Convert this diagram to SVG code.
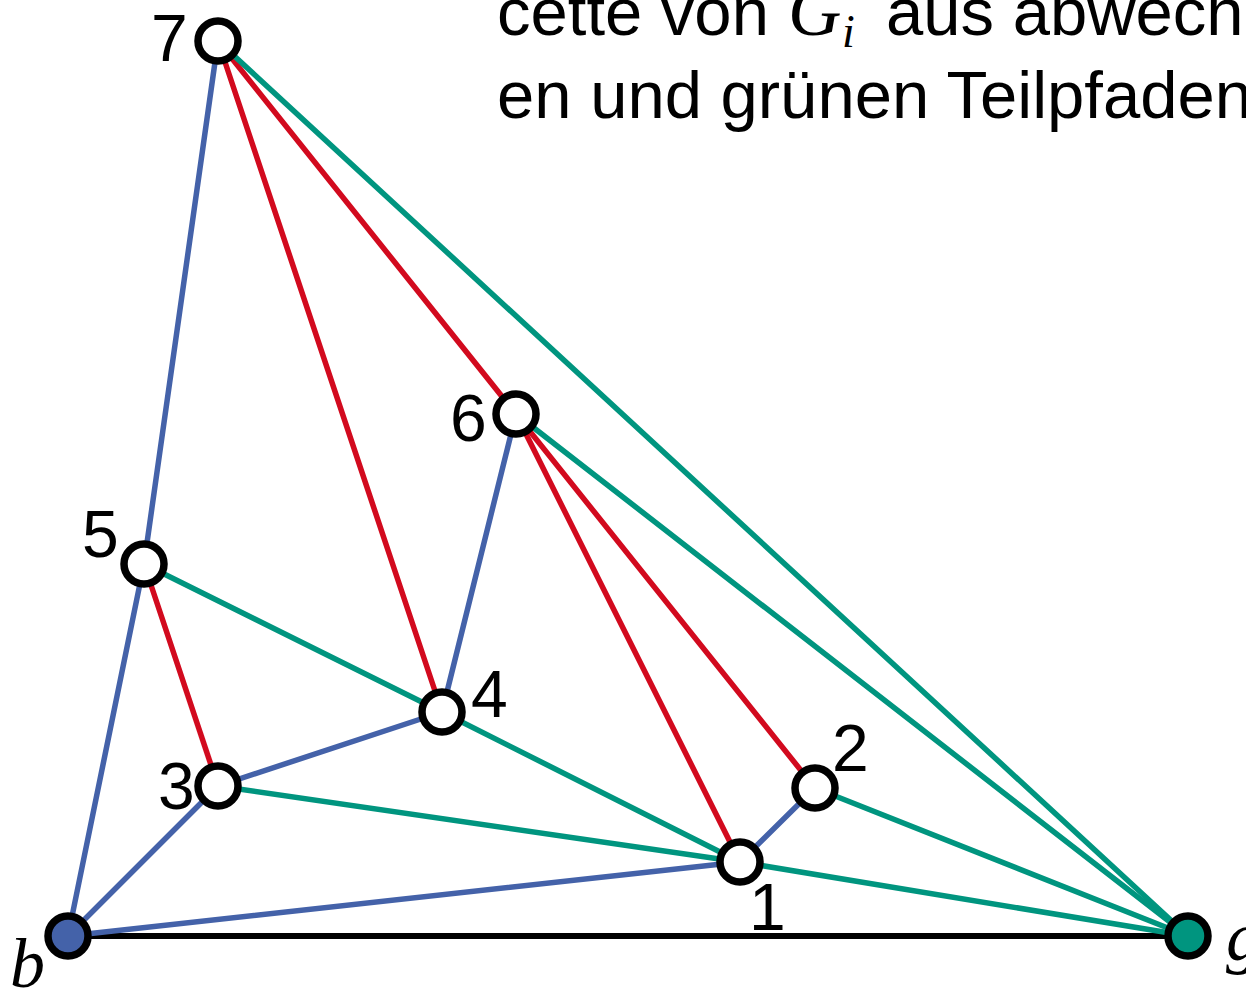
<svg xmlns="http://www.w3.org/2000/svg" width="1246" height="996" viewBox="0 0 1246 996">
<style>
.e{stroke-width:5.5;fill:none;stroke-linecap:round}
.bl{stroke:#4462a9}
.rd{stroke:#d20a1e}
.tl{stroke:#00957f}
.bk{stroke:#000;stroke-width:6}
.n{fill:#fff;stroke:#000;stroke-width:7.5}
.lab{font-family:"Liberation Sans",Arial,sans-serif;font-size:66px;fill:#000}
.txt{font-family:"Liberation Sans",Arial,sans-serif;font-size:67px;fill:#000}
.math{font-family:"Liberation Serif","Times New Roman",serif;font-style:italic;fill:#000}
</style>
<rect width="1246" height="996" fill="#fff"/>
<g id="caption">
<text class="txt" x="497" y="35">cette von <tspan class="math" font-size="74" x="788">G</tspan><tspan class="math" font-size="46" x="842" y="47">i</tspan><tspan x="886" y="35">aus abwech</tspan></text>
<text class="txt" x="497" y="118">en und grünen Teilpfaden</text>
</g>
<g id="connectors">
<line class="bk" x1="68" y1="936" x2="1188" y2="936"/>
<line class="e bl" x1="218" y1="41" x2="144" y2="564"/>
<line class="e bl" x1="144" y1="564" x2="68" y2="936"/>
<line class="e bl" x1="68" y1="936" x2="218" y2="786"/>
<line class="e bl" x1="218" y1="786" x2="442" y2="712"/>
<line class="e bl" x1="442" y1="712" x2="516" y2="414"/>
<line class="e bl" x1="68" y1="936" x2="740" y2="862"/>
<line class="e bl" x1="740" y1="862" x2="815" y2="788"/>
<line class="e rd" x1="218" y1="41" x2="442" y2="712"/>
<line class="e rd" x1="218" y1="41" x2="516" y2="414"/>
<line class="e rd" x1="144" y1="564" x2="218" y2="786"/>
<line class="e rd" x1="516" y1="414" x2="740" y2="862"/>
<line class="e rd" x1="516" y1="414" x2="815" y2="788"/>
<line class="e tl" x1="218" y1="41" x2="1188" y2="936"/>
<line class="e tl" x1="516" y1="414" x2="1188" y2="936"/>
<line class="e tl" x1="144" y1="564" x2="442" y2="712"/>
<line class="e tl" x1="442" y1="712" x2="740" y2="862"/>
<line class="e tl" x1="218" y1="786" x2="740" y2="862"/>
<line class="e tl" x1="740" y1="862" x2="1188" y2="936"/>
<line class="e tl" x1="815" y1="788" x2="1188" y2="936"/>
</g>
<g id="node-7"><circle class="n" cx="218" cy="41" r="20"/><text class="lab" x="151" y="61">7</text></g>
<g id="node-6"><circle class="n" cx="516" cy="414" r="20"/><text class="lab" x="450" y="441">6</text></g>
<g id="node-5"><circle class="n" cx="144" cy="564" r="20"/><text class="lab" x="82" y="557">5</text></g>
<g id="node-4"><circle class="n" cx="442" cy="712" r="20"/><text class="lab" x="471" y="717">4</text></g>
<g id="node-3"><circle class="n" cx="218" cy="786" r="20"/><text class="lab" x="158" y="809">3</text></g>
<g id="node-2"><circle class="n" cx="815" cy="788" r="20"/><text class="lab" x="832" y="771">2</text></g>
<g id="node-1"><circle class="n" cx="740" cy="862" r="20"/><text class="lab" x="749" y="930">1</text></g>
<g id="node-b"><circle class="n" cx="68" cy="936" r="20" style="fill:#4462a9"/><text class="math" font-size="70" x="10" y="987">b</text></g>
<g id="node-g"><circle class="n" cx="1188" cy="936" r="20" style="fill:#00957f"/><text class="math" font-size="70" x="1226" y="960">g</text></g>
</svg>
